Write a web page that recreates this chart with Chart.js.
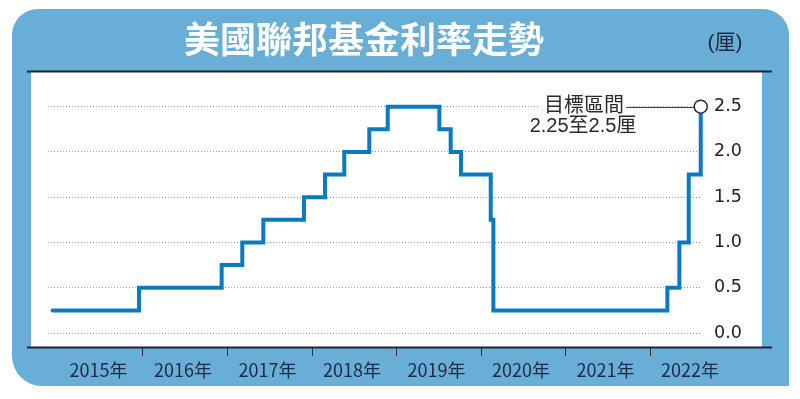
<!DOCTYPE html>
<html><head><meta charset="utf-8">
<script src="https://cdn.jsdelivr.net/npm/chart.js@4"></script>
<style>html,body{margin:0;padding:0;background:#fff;}#wrap{width:800px;height:399px;position:relative;}</style>
</head><body><div id="wrap"><canvas id="c" width="800" height="399"></canvas></div>
<script>
// ---- data ----
const stepTimes = [2014.93, 2015.953, 2016.931, 2017.175, 2017.424, 2017.905, 2018.154, 2018.382, 2018.678, 2018.896, 2019.507, 2019.641, 2019.763, 2020.115, 2020.146, 2022.205, 2022.347, 2022.458, 2022.6];
const rates     = [0.25,    0.5,      0.75,     1.0,      1.25,     1.5,      1.75,     2.0,      2.25,     2.5,      2.25,     2.0,      1.75,     1.25,     0.25,     0.5,      1.0,      1.75,     2.5];
const yearTicks = [2015, 2016, 2017, 2018, 2019, 2020, 2021, 2022];
const yearLabels = ['2015年','2016年','2017年','2018年','2019年','2020年','2021年','2022年'];
const yTicks = [0, 0.5, 1.0, 1.5, 2.0, 2.5];
const titleText = '美國聯邦基金利率走勢';
const unitText = '(厘)';
const noteLines = ['目標區間', '2.25至2.5厘'];

const BLUE = '#69aed7', LINE = '#0a7bbf', DARK = '#1c2336';

function roundRect(ctx, x, y, w, h, r) {
  const [tl, tr, br, bl] = r;
  ctx.beginPath();
  ctx.moveTo(x + tl, y);
  ctx.lineTo(x + w - tr, y);
  ctx.arcTo(x + w, y, x + w, y + tr, tr);
  ctx.lineTo(x + w, y + h - br);
  if (br) ctx.arcTo(x + w, y + h, x + w - br, y + h, br); else ctx.lineTo(x + w, y + h);
  ctx.lineTo(x + bl, y + h);
  ctx.arcTo(x, y + h, x, y + h - bl, bl);
  ctx.lineTo(x, y + tl);
  ctx.arcTo(x, y, x + tl, y, tl);
  ctx.closePath();
}

const framePlugin = {
  id: 'frame',
  beforeDraw(chart) {
    const ctx = chart.ctx;
    ctx.save();
    ctx.fillStyle = '#fff';
    ctx.fillRect(0, 0, 800, 399);
    roundRect(ctx, 12, 9, 777, 377, [26, 26, 0, 30]);
    ctx.fillStyle = BLUE;
    ctx.fill();
    ctx.fillStyle = '#fff';
    ctx.fillRect(31, 72, 731, 275);
    ctx.strokeStyle = DARK;
    ctx.lineWidth = 2;
    ctx.beginPath(); ctx.moveTo(27, 71.5); ctx.lineTo(772, 71.5); ctx.stroke();
    ctx.fillStyle = '#fff';
    ctx.font = 'bold 36px "Noto Sans CJK TC", sans-serif';
    ctx.textAlign = 'center'; ctx.textBaseline = 'middle';
    ctx.fillText(titleText, 364, 39);
    ctx.fillStyle = '#1c2b45';
    ctx.font = '21px "Liberation Sans", "Noto Sans CJK TC", sans-serif';
    ctx.fillText(unitText, 725, 43);
    ctx.restore();
  },
  beforeDatasetsDraw(chart) {
    const ctx = chart.ctx;
    const ys = chart.scales.y, xs = chart.scales.x;
    const yTop = ys.getPixelForValue(2.5);
    ctx.save();
    ctx.font = '20px "Liberation Sans", "Noto Sans CJK TC", sans-serif';
    ctx.textAlign = 'center'; ctx.textBaseline = 'middle';
    const w1 = ctx.measureText(noteLines[0]).width;
    ctx.fillStyle = '#fff';
    ctx.fillRect(584 - w1 / 2 - 4, yTop - 12, w1 + 8, 40);
    ctx.strokeStyle = '#444'; ctx.lineWidth = 1;
    ctx.beginPath();
    ctx.moveTo(584 + w1 / 2 + 2, Math.round(yTop) + 0.5);
    ctx.lineTo(xs.getPixelForValue(stepTimes[stepTimes.length - 1]) - 6, Math.round(yTop) + 0.5);
    ctx.stroke();
    ctx.fillStyle = '#2a2a2a';
    ctx.fillText(noteLines[0], 584, yTop);
    ctx.fillText(noteLines[1], 583, yTop + 20);
    ctx.restore();
  },
  afterDraw(chart) {
    const ctx = chart.ctx;
    ctx.save();
    ctx.strokeStyle = DARK; ctx.lineWidth = 2;
    ctx.beginPath(); ctx.moveTo(27, 347.5); ctx.lineTo(772, 347.5); ctx.stroke();
    ctx.restore();
  }
};

const lastIdx = rates.length - 1;
new Chart(document.getElementById('c'), {
  type: 'line',
  data: {
    datasets: [{
      data: stepTimes.map((t, i) => ({ x: t, y: rates[i] })),
      stepped: true,
      borderColor: LINE,
      borderWidth: 4,
      borderJoinStyle: 'miter',
      borderCapStyle: 'round',
      fill: false,
      clip: false,
      pointRadius: ctx => ctx.dataIndex === lastIdx ? 6.5 : 0,
      pointHoverRadius: 0,
      pointBackgroundColor: '#fff',
      pointBorderColor: '#1d2a4f',
      pointBorderWidth: 1.5
    }]
  },
  options: {
    responsive: false,
    animation: false,
    devicePixelRatio: 1,
    events: [],
    layout: { padding: { left: 48, top: 72, right: 0, bottom: 0 } },
    plugins: { legend: { display: false }, tooltip: { enabled: false }, title: { display: false } },
    scales: {
      x: {
        type: 'linear',
        min: 2014.876,
        max: 2022.615,
        afterBuildTicks: s => { s.ticks = yearTicks.map(v => ({ value: v })); },
        afterFit: s => { s.height = 52; },
        border: { display: false },
        grid: {
          drawOnChartArea: false,
          drawTicks: true,
          tickLength: 9,
          tickWidth: 1,
          tickColor: ctx => ctx.index === 0 ? 'rgba(0,0,0,0)' : '#333'
        },
        ticks: {
          autoSkip: false,
          maxRotation: 0,
          labelOffset: 40,
          padding: 3,
          color: '#1c2b45',
          font: { family: '"Liberation Sans Narrow", "Noto Sans CJK TC", sans-serif', size: 18 },
          callback: (v) => { const i = yearTicks.indexOf(v); return i >= 0 ? yearLabels[i] : ''; }
        }
      },
      y: {
        type: 'linear',
        position: 'right',
        min: -0.1545,
        max: 2.883,
        afterBuildTicks: s => { s.ticks = yTicks.map(v => ({ value: v })); },
        afterFit: s => { s.width = 98; },
        border: { display: false, dash: [1, 2] },
        grid: { color: '#9a9a9a', lineWidth: 1, drawTicks: false },
        ticks: {
          padding: 12,
          color: '#222',
          font: { family: '"DejaVu Sans", sans-serif', size: 17.5 },
          callback: v => Number(v).toFixed(1)
        }
      }
    }
  },
  plugins: [framePlugin]
});
</script>
</body></html>
